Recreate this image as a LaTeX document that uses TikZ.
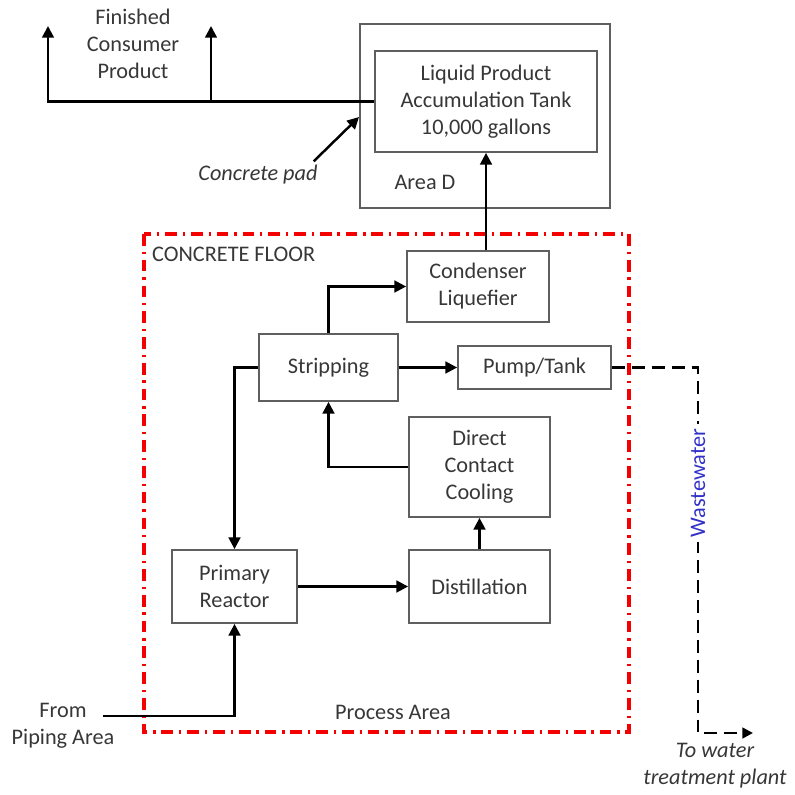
\documentclass[tikz,border=0pt]{standalone}
\usepackage{fontspec}
\setmainfont{Carlito}
\usepackage{tikz}
\usetikzlibrary{arrows.meta}
\usepackage{xcolor}
\definecolor{boxgray}{RGB}{95,95,95}
\definecolor{txtgray}{RGB}{55,55,55}
\definecolor{wblue}{RGB}{50,50,200}
\definecolor{floorred}{RGB}{245,0,0}

\tikzset{
  every node/.style={font=\fontsize{19}{23}\selectfont, text=txtgray},
  unit/.style={draw=boxgray, line width=1.5pt, align=center, inner sep=0pt},
  flow/.style={-{Triangle[length=10pt,width=10pt]}, line width=2.1pt},
  waste/.style={-{Triangle[length=9pt,width=9pt]}, line width=2.1pt, dash pattern=on 11pt off 6pt},
  floor/.style={draw=floorred, line width=2.6pt, dash pattern=on 10pt off 5pt on 2pt off 5pt}
}

\begin{document}
\begin{tikzpicture}[x=0.03cm,y=-0.03cm]
      \useasboundingbox (0,0) rectangle (795,795);
      % concrete floor
      \draw[floor] (144,234) rectangle (629,732);
      \node[anchor=west] (floorlbl) at (148,254) {CONCRETE FLOOR};
      \node[] (process) at (393,712) {Process Area};
      % area D and the tank
      \node[unit, minimum width=7.5cm, minimum height=5.52cm] (areaD) at (485,116) {};
      \node[unit, minimum width=6.66cm, minimum height=3.03cm] (tank) at (486,101.5) {Liquid Product\\Accumulation Tank\\10,000 gallons};
      \node[] (arealbl) at (425,182) {Area D};
      % process units
      \node[unit, minimum width=4.26cm, minimum height=2.13cm] (cond) at (478,286.5) {Condenser\\Liquefier};
      \node[unit, minimum width=4.17cm, minimum height=2.01cm] (strip) at (328.5,367.5) {Stripping};
      \node[unit, minimum width=4.59cm, minimum height=1.29cm] (pump) at (534.5,367.5) {Pump/Tank};
      \node[unit, minimum width=4.23cm, minimum height=3cm] (cool) at (479.5,467) {Direct\\Contact\\Cooling};
      \node[unit, minimum width=3.75cm, minimum height=2.19cm] (reactor) at (234.5,586.5) {Primary\\Reactor};
      \node[unit, minimum width=4.23cm, minimum height=2.19cm] (distil) at (479.5,586.5) {Distillation};
      % outside labels
      \node[align=center] (product) at (133,44) {Finished\\Consumer\\Product};
      \node[font=\fontsize{19}{23}\selectfont\itshape] (pad) at (258,175) {Concrete pad};
      \node[align=center] (from) at (63,725.5) {From\\Piping Area};
      \node[align=center, font=\fontsize{19}{23}\selectfont\itshape] (plant) at (715,765.5) {To water\\treatment plant};
      \coordinate (fp1) at (48,26);
      \coordinate (fp2) at (211,26);
      \coordinate (padtip) at (359,117);
      \coordinate (pipein) at (103,716);
      \coordinate (drain) at (698,733);
      \coordinate (outfall) at (753,733);
      % flows
      \draw[flow] (tank.west) -| (fp1);
      \draw[flow] (fp2 |- tank.west) -- (fp2);
      \draw[flow] ([xshift=-0.24cm]pad.north east) -- (padtip);
      \draw[flow] (tank.south |- cond.north) -- (tank.south);
      \draw[flow] (strip.north) |- (cond.west);
      \draw[flow] (strip.east) -- (pump.west);
      \draw[flow] (strip.west) -| (reactor.north);
      \draw[flow] (cool.west) -| (strip.south);
      \draw[flow] (reactor.east) -- (distil.west);
      \draw[flow] (distil.north) -- (cool.south);
      \draw[flow] (pipein) -| (reactor.south);
      \draw[waste] (pump.east) -| (drain) -- (outfall);
      \node[rotate=90, fill=white, text=wblue, inner sep=4pt] (ww) at (698,483) {Wastewater};
\end{tikzpicture}
\end{document}
